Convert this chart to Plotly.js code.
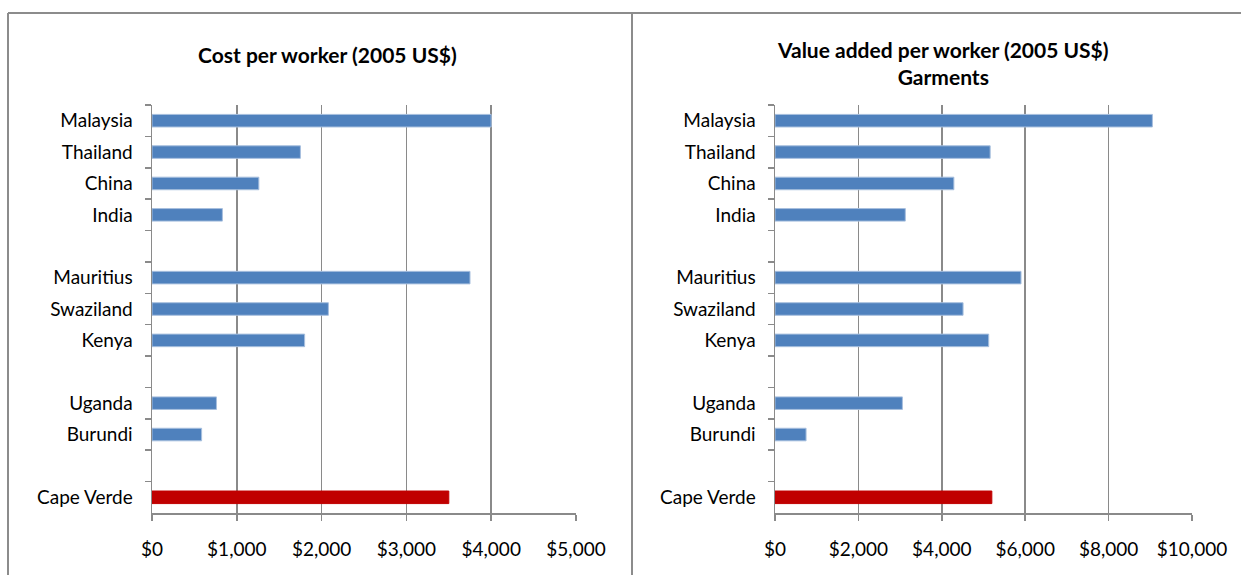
<!DOCTYPE html>
<html>
<head>
<meta charset="utf-8">
<script src="https://cdn.plot.ly/plotly-3.0.1.min.js"></script>
<style>html,body{margin:0;padding:0;background:#fff}#chart{width:1241px;height:575px}</style>
</head>
<body>
<div id="chart"></div>
<script>
// Categories (blank strings are the gaps between country groups)
const categories = ["Malaysia", "Thailand", "China", "India", " ",
                    "Mauritius", "Swaziland", "Kenya", "  ",
                    "Uganda", "Burundi", "   ", "Cape Verde"];
// Cost per worker (2005 US$)
const costPerWorker = [4000, 1750, 1260, 830, null,
                       3750, 2080, 1800, null,
                       760, 585, null, 3500];
// Value added per worker (2005 US$), garments
const valueAdded = [9050, 5160, 4290, 3125, null,
                    5900, 4510, 5125, null,
                    3055, 745, null, 5200];
const highlight = "Cape Verde";
const leftTitle = "Cost per worker (2005 US$)";
const rightTitle = "Value added per worker (2005 US$)<br>Garments";

const BLUE = "#4F81BD", RED = "#C00000";
const colors = categories.map(c => c === highlight ? RED : BLUE);
const lineColors = categories.map(c => c === highlight ? RED : "#A7BFDE");

const W = 1241, H = 575;
const px = v => v / W, py = v => 1 - v / H;
const GRID = "#8A8A8A";
const tickFont = {family: "Lato, 'Open Sans', sans-serif", size: 19, color: "#000"};
const titleFont = {family: "Lato, sans-serif", size: 21, color: "#000", weight: "bold"};

function xAxis(domain, max, dtick, anchor) {
  return {
    domain: domain, range: [0, max], dtick: dtick, tick0: 0,
    tickprefix: "$", tickformat: ",d", separatethousands: true,
    showgrid: true, gridcolor: GRID, gridwidth: 1.5, zeroline: false,
    showline: true, linecolor: GRID, linewidth: 1.5,
    ticks: "outside", ticklen: 6, tickcolor: GRID, tickwidth: 1.5,
    ticklabelstandoff: 13, tickfont: tickFont, anchor: anchor, fixedrange: true
  };
}
function yAxis(anchor) {
  return {
    domain: [py(513), py(105)], type: "category", autorange: "reversed",
    categoryorder: "array", categoryarray: categories,
    showgrid: false, zeroline: false,
    showline: true, linecolor: GRID, linewidth: 1.5,
    ticks: "outside", ticklen: 6, tickcolor: GRID, tickwidth: 1.5,
    tickson: "boundaries", ticklabelstandoff: 14,
    tickfont: tickFont, anchor: anchor, fixedrange: true
  };
}

const data = [
  {type: "bar", orientation: "h", y: categories, x: costPerWorker,
   xaxis: "x", yaxis: "y",
   marker: {color: colors, line: {color: lineColors, width: 1}},
   hoverinfo: "x+y", showlegend: false},
  {type: "bar", orientation: "h", y: categories, x: valueAdded,
   xaxis: "x2", yaxis: "y2",
   marker: {color: colors, line: {color: lineColors, width: 1}},
   hoverinfo: "x+y", showlegend: false}
];

const layout = {
  width: W, height: H,
  margin: {l: 0, r: 0, t: 0, b: 0},
  paper_bgcolor: "#fff", plot_bgcolor: "rgba(0,0,0,0)",
  bargap: 0.6,
  font: {family: "Lato, 'Open Sans', sans-serif", color: "#000"},
  xaxis: xAxis([px(152), px(576)], 5000, 1000, "y"),
  yaxis: yAxis("x"),
  xaxis2: xAxis([px(775), px(1192)], 10000, 2000, "y2"),
  yaxis2: yAxis("x2"),
  annotations: [
    {text: leftTitle, xref: "paper", yref: "paper", x: px(327), y: py(54),
     xanchor: "center", yanchor: "middle", showarrow: false, font: titleFont},
    {text: rightTitle, xref: "paper", yref: "paper", x: px(943), y: py(63),
     xanchor: "center", yanchor: "middle", showarrow: false, font: titleFont}
  ],
  shapes: [
    {type: "line", xref: "paper", yref: "paper", x0: px(8), x1: px(1241), y0: py(13), y1: py(13),
     line: {color: "#8C8C8C", width: 2}},
    {type: "line", xref: "paper", yref: "paper", x0: px(8), x1: px(8), y0: py(13), y1: 0,
     line: {color: "#8C8C8C", width: 2}},
    {type: "line", xref: "paper", yref: "paper", x0: px(632), x1: px(632), y0: py(13), y1: 0,
     line: {color: "#8C8C8C", width: 2}}
  ]
};

Plotly.newPlot("chart", data, layout, {displayModeBar: false, staticPlot: true});
</script>
</body>
</html>
